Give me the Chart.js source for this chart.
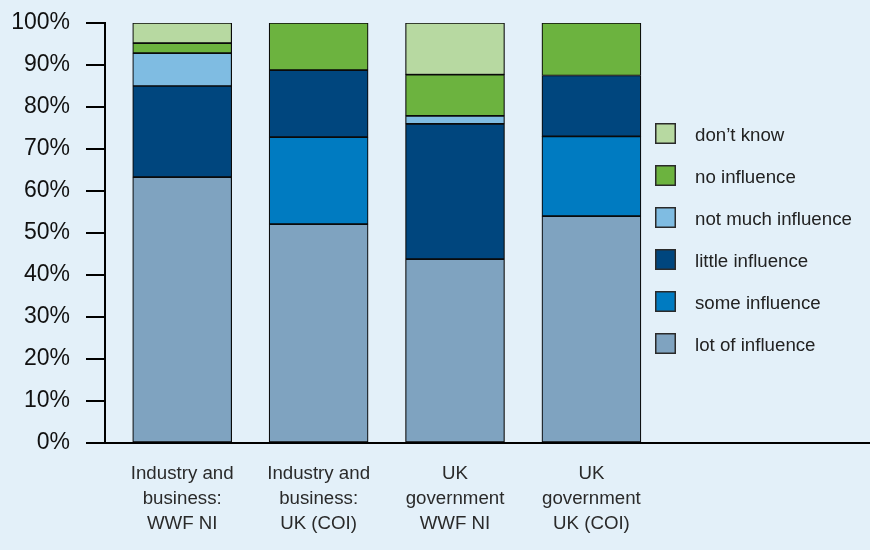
<!DOCTYPE html>
<html>
<head>
<meta charset="utf-8">
<title>Influence on climate change</title>
<script src="https://cdn.jsdelivr.net/npm/chart.js@4.4.1/dist/chart.umd.min.js"></script>
<style>
    html, body { margin: 0; padding: 0; background: #e3f0f9; }
    #wrap { width: 870px; height: 550px; }
</style>
</head>
<body>
<div id="wrap"><canvas id="chart" width="870" height="550"></canvas></div>
<script>
// who the answers are about, and where the survey came from
const categories = [
    ['Industry and', 'business:', 'WWF NI'],
    ['Industry and', 'business:', 'UK (COI)'],
    ['UK', 'government', 'WWF NI'],
    ['UK', 'government', 'UK (COI)']
];

// share of answers, per cent
const lotOfInfluence = [63.3, 52.1, 43.8, 54.0];
const someInfluence = [0, 20.7, 0, 19.0];
const littleInfluence = [21.7, 16.0, 32.2, 14.5];
const notMuchInfluence = [7.8, 0, 1.9, 0];
const noInfluence = [2.4, 11.2, 9.8, 12.5];
const dontKnow = [4.8, 0, 12.3, 0];

const yTicks = [0, 10, 20, 30, 40, 50, 60, 70, 80, 90, 100];

const FONT = '"Liberation Sans", Arial, sans-serif';

function points(values) {
    return values.map((v, i) => ({ x: i, y: v }));
}

const series = [
    { label: 'lot of influence', data: lotOfInfluence, color: '#7fa3c0' },
    { label: 'some influence', data: someInfluence, color: '#007bc1' },
    { label: 'little influence', data: littleInfluence, color: '#00467e' },
    { label: 'not much influence', data: notMuchInfluence, color: '#7fbce2' },
    { label: 'no influence', data: noInfluence, color: '#6cb33f' },
    { label: 'don\u2019t know', data: dontKnow, color: '#b7d9a1' }
];

// legend sits inside the plot, to the right of the bars
const sideLegend = {
    id: 'sideLegend',
    afterDraw(chart) {
        const ctx = chart.ctx;
        const sets = chart.data.datasets.slice().reverse();
        ctx.save();
        ctx.font = '18.7px ' + FONT;
        ctx.textBaseline = 'middle';
        sets.forEach((ds, i) => {
            const y = 123 + i * 42;
            ctx.fillStyle = ds.backgroundColor;
            ctx.fillRect(655, y, 21, 21);
            ctx.strokeStyle = '#2a2a2a';
            ctx.lineWidth = 1.5;
            ctx.strokeRect(655.75, y + 0.75, 19.5, 19.5);
            ctx.fillStyle = '#222';
            ctx.fillText(ds.label, 695, y + 13);
        });
        ctx.restore();
    }
};

new Chart(document.getElementById('chart'), {
    type: 'bar',
    data: {
        datasets: series.map(s => ({
            label: s.label,
            data: points(s.data),
            backgroundColor: s.color,
            borderColor: '#0a0a0a',
            borderWidth: 1.2,
            borderSkipped: false,
            barThickness: 99
        }))
    },
    options: {
        responsive: false,
        animation: false,
        layout: { padding: { top: 23, left: 11, right: 1, bottom: 15 } },
        plugins: {
            legend: { display: false },
            tooltip: { enabled: false }
        },
        scales: {
            x: {
                type: 'linear',
                stacked: true,
                offset: false,
                min: -0.566,
                max: 5.035,
                afterBuildTicks: scale => {
                    scale.ticks = categories.map((c, i) => ({ value: i }));
                },
                // padding is counted twice by fit(), keep the band tight
                afterFit: scale => { scale.height = 92; },
                grid: { display: false, drawTicks: false },
                border: { display: true, color: '#000', width: 2 },
                ticks: {
                    autoSkip: false,
                    maxRotation: 0,
                    padding: 18,
                    color: '#2a2a2a',
                    font: { family: FONT, size: 18.7, lineHeight: 1.34 },
                    callback: value => categories[value]
                }
            },
            y: {
                stacked: true,
                min: 0,
                max: 100,
                afterBuildTicks: scale => {
                    scale.ticks = yTicks.map(v => ({ value: v }));
                },
                afterFit: scale => {
                    scale.width = 94;
                    scale.paddingTop = 14;
                    scale.paddingBottom = 14;
                },
                grid: {
                    drawOnChartArea: false,
                    drawTicks: true,
                    tickLength: 19,
                    tickColor: '#000',
                    tickWidth: 2,
                    lineWidth: 2
                },
                border: { display: true, color: '#000', width: 2 },
                ticks: {
                    padding: 16,
                    color: '#111',
                    font: { family: FONT, size: 23 },
                    callback: v => v + '%'
                }
            }
        }
    },
    plugins: [sideLegend]
});
</script>
</body>
</html>
